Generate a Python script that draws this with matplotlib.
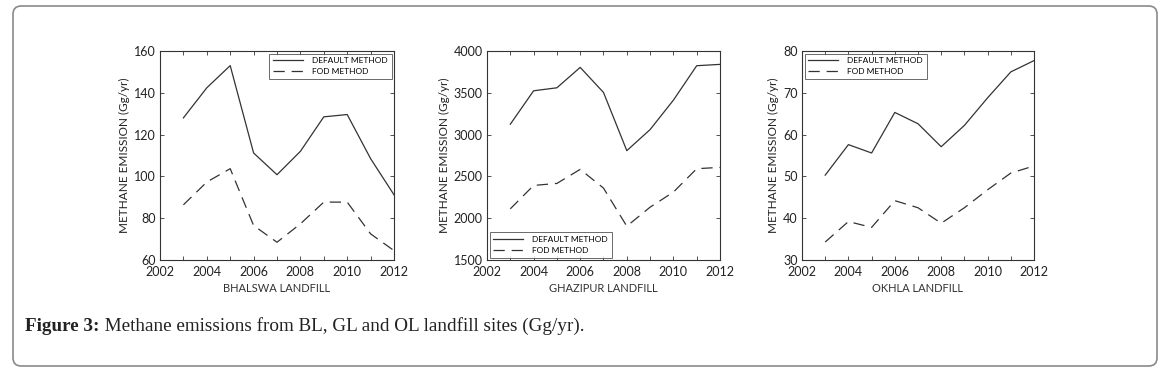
import matplotlib
matplotlib.use("Agg")
import matplotlib.pyplot as plt
from matplotlib.patches import FancyBboxPatch
from matplotlib.ticker import MultipleLocator

years = [2003, 2004, 2005, 2006, 2007, 2008, 2009, 2010, 2011, 2012]

bhalswa_default = [128.0, 142.4, 153.0, 111.2, 100.8, 112.0, 128.5, 129.6, 108.5, 91.2]
bhalswa_fod = [86.4, 97.3, 103.7, 76.5, 68.5, 77.3, 87.7, 87.7, 72.5, 64.5]

ghazipur_default = [3124, 3524, 3560, 3804, 3504, 2808, 3060, 3412, 3824, 3840]
ghazipur_fod = [2112, 2392, 2416, 2584, 2360, 1904, 2132, 2312, 2592, 2608]

okhla_default = [50.3, 57.6, 55.6, 65.3, 62.6, 57.1, 62.2, 68.8, 75.0, 77.7]
okhla_fod = [34.3, 39.2, 37.8, 44.2, 42.5, 38.8, 42.5, 46.8, 50.8, 52.5]

site_labels = ["BHALSWA LANDFILL", "GHAZIPUR LANDFILL", "OKHLA LANDFILL"]
series_labels = ["DEFAULT METHOD", "FOD METHOD"]
y_label = "METHANE EMISSION (Gg/yr)"
caption_bold = "Figure 3:"
caption_text = " Methane emissions from BL, GL and OL landfill sites (Gg/yr)."

W, H = 1172, 376
fig = plt.figure(figsize=(W / 100, H / 100), dpi=100)
fig.patch.set_facecolor("white")

# outer rounded frame
frame = FancyBboxPatch((13 / W, (H - 366) / H), (1157 - 13) / W, (366 - 6) / H,
                       boxstyle="round,pad=0,rounding_size=0.007",
                       transform=fig.transFigure, facecolor="none",
                       edgecolor="#8a8a8a", linewidth=1.2, mutation_aspect=W / H)
fig.patches.append(frame)

font = "Lato"
panels = [
    (160, 394, bhalswa_default, bhalswa_fod, (60, 160), 20, "upper right", site_labels[0]),
    (487, 720, ghazipur_default, ghazipur_fod, (1500, 4000), 500, "lower left", site_labels[1]),
    (802, 1034, okhla_default, okhla_fod, (30, 80), 10, "upper left", site_labels[2]),
]
top, bottom = 51, 260
for left, right, d, f, ylim, ystep, loc, xl in panels:
    ax = fig.add_axes([left / W, (H - bottom) / H, (right - left) / W, (bottom - top) / H])
    ax.plot(years, d, color="#333333", lw=0.9, label=series_labels[0])
    ax.plot(years, f, color="#333333", lw=0.9, ls=(0, (9, 5.5)), label=series_labels[1])
    ax.set_xlim(2002, 2012)
    ax.set_ylim(*ylim)
    ax.xaxis.set_major_locator(MultipleLocator(2))
    ax.xaxis.set_minor_locator(MultipleLocator(1))
    ax.yaxis.set_major_locator(MultipleLocator(ystep))
    ax.tick_params(which="both", direction="in", top=True, right=True,
                   labelsize=9, labelcolor="#222222", color="#333333")
    ax.tick_params(axis="x", pad=4)
    ax.tick_params(axis="y", pad=3)
    ax.tick_params(which="major", length=3, width=0.6)
    ax.tick_params(which="minor", length=3, width=0.6)
    for s in ax.spines.values():
        s.set_linewidth(0.8)
        s.set_color("#333333")
    for lab in ax.get_xticklabels() + ax.get_yticklabels():
        lab.set_fontfamily(font)
    ax.set_xlabel(xl, fontsize=8, family=font, color="#333333", labelpad=4)
    ax.set_ylabel(y_label, fontsize=8.5, family=font, color="#222222", labelpad=3)
    leg = ax.legend(loc=loc, prop={"family": font, "size": 6}, frameon=True,
                    fancybox=False, edgecolor="#444444", borderaxespad=0.3,
                    handlelength=3.6, handletextpad=1.1, borderpad=0.45,
                    labelspacing=0.45)
    leg.get_frame().set_linewidth(0.7)

cap_fs = 13.8
fig.text(25 / W, (H - 331) / H, caption_bold, fontsize=cap_fs, family="Liberation Serif",
         weight="bold", ha="left", va="baseline", color="#222222")
t = fig.text(0, 0, caption_bold, fontsize=cap_fs, family="Liberation Serif", weight="bold")
fig.canvas.draw()
bb = t.get_window_extent()
t.remove()
fig.text(25 / W + bb.width / W, (H - 331) / H, caption_text, fontsize=cap_fs,
         family="Liberation Serif", ha="left", va="baseline", color="#222222")

fig.savefig("out.png", dpi=100)
